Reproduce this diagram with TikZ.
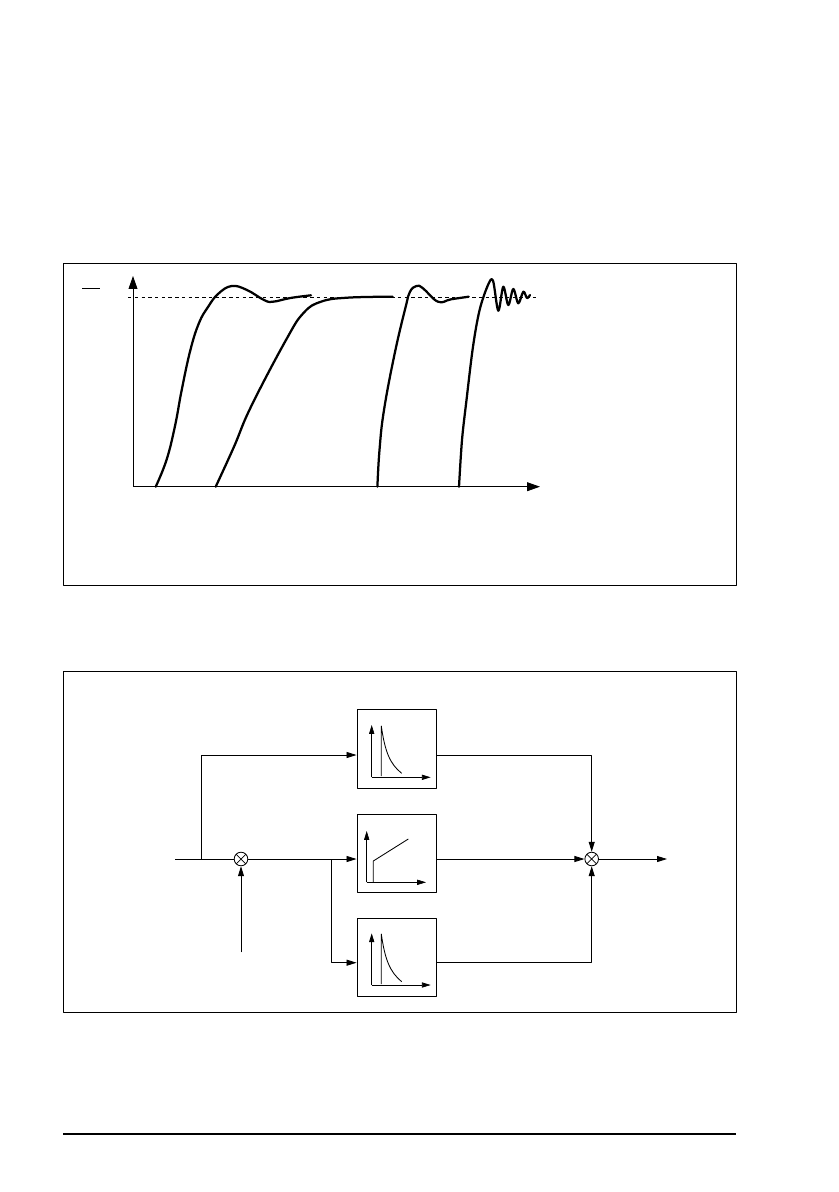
\documentclass[tikz,border=0pt]{standalone}
\usetikzlibrary{arrows.meta}

\begin{document}
\begin{tikzpicture}[x=0.025cm,y=-0.025cm,line join=round,
  frame/.style={draw,line width=.6pt},
  axis/.style={draw,line width=.6pt,-{Triangle[length=3.2mm,width=2.2mm]}},
  response/.style={draw,line width=1.6pt,line cap=round},
  block/.style={draw,line width=.6pt,minimum width=1.975cm,minimum height=1.96cm,inner sep=0pt},
  summer/.style={draw,circle,line width=.6pt,minimum size=.34cm,inner sep=0pt,
    path picture={\draw[line width=.5pt] (path picture bounding box.north west) -- (path picture bounding box.south east)
      (path picture bounding box.south west) -- (path picture bounding box.north east);}},
  link/.style={draw,line width=.6pt,-{Triangle[length=2.5mm,width=1.5mm]}},
  mini/.style={draw,line width=.5pt,-{Triangle[length=2.2mm,width=1.3mm]}},
  minicurve/.style={draw,line width=.6pt}]
  \useasboundingbox (0,0) rectangle (838,1192);

  % Step responses
  \path[frame] (63,263) rectangle (736,585);
  \path[axis] (133,486.7) -- (133,276);
  \path[axis] (133,486.7) -- (540,486.7);
  \path[draw,line width=.6pt] (82,288) -- (100,288);
  \path[draw,line width=.6pt,dash pattern=on 2.4pt off 2.4pt] (128,297) -- (537,297);
  \path[response] plot[smooth,tension=.7] coordinates {(155.7,486.7) (166.5,460) (175,426) (181.7,390) (190.4,350) (199,323) (208,307) (218,294) (231.7,286) (247,290) (264,300) (273,301.7) (290.4,298) (311,295.3)};
  \path[response] plot[smooth,tension=.7] coordinates {(215.7,486.7) (234,446.7) (251,406.7) (286,340) (303.5,313) (321,301.7) (347,297.7) (392.6,296.7)};
  \path[response] plot[smooth,tension=.7] coordinates {(377.4,486.7) (379.5,450) (384,410) (394.8,353) (405.7,306.7) (410,291.7) (416.5,286) (423,288.3) (438,301.7) (451,299.3) (468.7,296.7)};
  \path[response] plot[smooth,tension=.55] coordinates {(459,486.7) (462,440) (466.5,400) (473,346.7) (479.6,310) (488,285) (493,280.7) (498.3,310.7) (503.3,286.7) (508.3,305) (513.3,289) (518.3,303.3) (523.3,291.7) (527,298) (530,295)};

  % PID structure
  \path[frame] (63,671) rectangle (736,1012);
  \node[block] (deriv1) at (396.5,749) {};
  \node[block] (propint) at (396.5,853.3) {};
  \node[block] (deriv2) at (396.5,957.5) {};
  \node[summer] (sumin) at (241,859) {};
  \node[summer] (sumout) at (591.7,859) {};
  \coordinate (in) at (175,859);
  \coordinate (fb) at (241,952.3);
  \coordinate (out) at (667,859);
  \coordinate (split1) at (201,859);
  \coordinate (split2) at (331.7,859);
  \coordinate (rowA) at (201,755);
  \coordinate (rowC) at (331.7,962.7);

  \draw[line width=.6pt] (in) -- (sumin);
  \draw[link] (split1) -- (rowA) -- (rowA -| deriv1.west);
  \draw[link] (fb) -- (sumin);
  \draw[link] (sumin) -- (sumin -| propint.west);
  \draw[link] (split2) -- (rowC) -- (rowC -| deriv2.west);
  \draw[link] (rowA -| deriv1.east) -| (sumout);
  \draw[link] (sumin -| propint.east) -- (sumout);
  \draw[link] (rowC -| deriv2.east) -| (sumout);
  \draw[link] (sumout) -- (out);

  % little curves in the blocks
  \path[mini] (371.7,777.3) -- (371.7,725);
  \path[mini] (371.7,777.3) -- (430.7,777.3);
  \path[minicurve] (381.3,776) -- (381.3,726) .. controls (385,752) and (390,764) .. (401.7,773.3);
  \path[mini] (366.7,882.3) -- (366.7,831);
  \path[mini] (366.7,882.3) -- (426,882.3);
  \path[minicurve] (373.3,882.3) -- (373.3,861) -- (408.3,839);
  \path[mini] (371.7,985) -- (371.7,933.3);
  \path[mini] (371.7,985) -- (430.7,985);
  \path[minicurve] (381.3,984) -- (381.3,934) .. controls (385,960) and (390,972) .. (401.7,981.7);

  % footer rule
  \path[draw,line width=.9pt] (63,1134) -- (736,1134);
\end{tikzpicture}
\end{document}
